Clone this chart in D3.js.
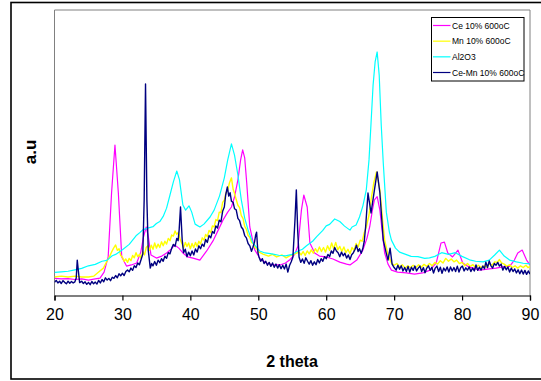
<!DOCTYPE html>
<html>
<head>
<meta charset="utf-8">
<script src="https://cdn.jsdelivr.net/npm/d3@7"></script>
<style>
  body { margin: 0; background: #fff; }
  svg { display: block; font-family: "Liberation Sans", Arial, sans-serif; }
</style>
</head>
<body>
<div id="chart"></div>
<script>
// series names as in the legend
const seriesNames = ["Ce 10% 600oC", "Mn 10% 600oC", "Al2O3", "Ce-Mn 10% 600oC"];
const seriesColors = ["#ff00ff", "#ffff00", "#00ffff", "#000080"];
const xTicks = [20, 30, 40, 50, 60, 70, 80, 90];

// [2 theta, a.u]
const ce = [
  [20, 6.0], [21, 5.8], [22, 5.9], [23, 5.6], [24, 5.8], [25, 5.4], [26, 5.8], [26.7, 6.1],
  [27.3, 8.2], [27.9, 13.5], [28.4, 35.9], [28.9, 52.7], [29.4, 35.9], [29.9, 13.5], [30.6, 10.3],
  [31.3, 10.7], [32.1, 11.4], [32.7, 15.2], [33.1, 20.5], [33.5, 24.0], [33.8, 20.8], [34.2, 14.2],
  [35, 13.1], [35.8, 13.8], [36.5, 14.9], [37.2, 16.3], [37.7, 17.7], [38.3, 16.6], [38.9, 14.9],
  [39.6, 13.5], [40.4, 13.1], [41.4, 12.4], [42.4, 15.6], [43.4, 19.4], [44.1, 22.9], [44.8, 26.4],
  [45.5, 29.2], [46.05, 31.0], [46.5, 34.5], [47, 40.5], [47.4, 47.5], [47.7, 51.0], [48, 48.2],
  [48.3, 39.4], [48.75, 24.0], [49.5, 15.9], [50.3, 12.8], [51.2, 11.4], [52.2, 10.7], [53.2, 10.7],
  [54, 11.4], [54.6, 12.4], [55.3, 14.2], [55.85, 17.3], [56.35, 29.9], [56.7, 35.2], [57.2, 31.0],
  [57.6, 18.4], [58.3, 14.9], [59, 13.8], [60, 13.5], [61, 12.8], [62, 11.7], [63, 11.0], [63.5, 10.7],
  [64.5, 12.4], [65.4, 15.9], [66, 20.1], [66.4, 24.0], [66.8, 29.9], [67.1, 33.5], [67.5, 34.6],
  [67.9, 29.9], [68.3, 21.2], [68.6, 14.9], [69.1, 11.0], [69.6, 8.9], [70.5, 8.2], [71.8, 7.9],
  [73, 7.5], [74.2, 7.9], [75.3, 8.9], [76.2, 11.4], [76.9, 18.4], [77.4, 18.7], [77.9, 14.9],
  [78.6, 13.5], [79.4, 15.9], [80.1, 11.4], [81, 10.0], [82.6, 8.9], [84, 9.3], [85, 9.6], [86, 10.0],
  [87, 10.2], [87.7, 12.4], [88.2, 14.9], [88.85, 15.9], [89.5, 12.4], [90, 10.7]
];

const mn = [
  [20, 6.5], [21, 6.8], [22, 6.5], [23, 6.8], [24, 6.5], [25, 6.5], [25.8, 6.8], [26.5, 8.2],
  [27.2, 9.6], [27.8, 12.4], [28.1, 13.6], [28.4, 15.2], [28.7, 16.6], [29, 17.7], [29.25, 15.8],
  [29.5, 16.4], [29.75, 14.0], [30, 13.4], [30.25, 12.0], [30.5, 12.8], [30.75, 11.6], [31, 13.0],
  [31.25, 12.2], [31.5, 14.0], [31.75, 13.2], [32, 15.0], [32.25, 13.6], [32.5, 14.4], [32.75, 13.0],
  [33, 15.4], [33.25, 14.2], [33.5, 16.8], [33.75, 17.4], [34, 15.8], [34.25, 17.6], [34.5, 16.2],
  [34.75, 18.4], [35, 16.6], [35.25, 18.0], [35.5, 16.8], [35.75, 18.8], [36, 17.4], [36.25, 19.0],
  [36.5, 18.0], [36.75, 20.0], [37, 19.2], [37.25, 21.2], [37.5, 20.8], [37.75, 22.6], [38, 21.4],
  [38.25, 22.2], [38.5, 19.6], [38.75, 18.2], [39, 16.6], [39.25, 18.6], [39.5, 17.2], [39.75, 18.4],
  [40, 16.4], [40.25, 18.2], [40.5, 16.8], [40.75, 18.6], [41, 17.2], [41.25, 19.0], [41.5, 18.0],
  [41.75, 20.2], [42, 19.4], [42.25, 21.4], [42.5, 20.6], [42.75, 22.8], [43, 22.0], [43.25, 24.4],
  [43.5, 24.0], [43.75, 26.6], [44, 26.2], [44.25, 29.2], [44.5, 29.0], [44.75, 32.6], [45, 33.4],
  [45.25, 36.0], [45.5, 36.8], [45.75, 39.4], [46.05, 41.2], [46.3, 37.2], [46.5, 35.8], [46.75, 33.6],
  [47, 31.6], [47.25, 30.8], [47.5, 28.0], [47.75, 27.0], [48, 24.2], [48.25, 23.2], [48.5, 21.0],
  [48.75, 20.4], [49, 18.6], [49.25, 18.2], [49.5, 16.8], [49.75, 16.4], [50, 15.4], [50.7, 14.5],
  [51.5, 13.8], [52.1, 14.4], [52.7, 13.5], [53.5, 14.2], [54.1, 13.2], [54.6, 13.9], [55.3, 14.5],
  [56, 15.2], [56.3, 14.2], [56.6, 15.4], [56.9, 14.0], [57.2, 15.6], [57.5, 14.6], [57.8, 16.0],
  [58.1, 14.8], [58.4, 16.4], [58.7, 15.2], [59, 17.0], [59.3, 15.4], [59.6, 16.8], [59.9, 15.2],
  [60.2, 17.4], [60.5, 15.8], [60.8, 18.4], [61.1, 16.4], [61.4, 18.6], [61.7, 16.0], [62, 17.2],
  [62.3, 15.4], [62.6, 17.0], [62.9, 15.0], [63.2, 16.2], [63.5, 14.6], [63.8, 16.8], [64.1, 15.8],
  [64.4, 18.2], [64.7, 17.0], [65, 19.4], [65.3, 19.0], [65.6, 22.0], [65.9, 24.0], [66.3, 28.2],
  [66.6, 33.5], [67, 39.4], [67.4, 43.3], [67.9, 37.0], [68.3, 26.4], [68.6, 19.4], [69.1, 14.2],
  [69.6, 11.4], [70, 10.6], [70.4, 11.2], [70.8, 10.0], [71.2, 10.8], [71.6, 9.6], [72, 10.4],
  [72.4, 9.8], [72.8, 10.6], [73.2, 9.8], [73.6, 10.8], [74, 10.0], [74.4, 10.9], [74.8, 10.2],
  [75.2, 11.2], [75.6, 10.4], [76, 11.6], [76.4, 11.0], [76.8, 12.2], [77.2, 11.4], [77.6, 13.0],
  [78, 12.0], [78.4, 12.8], [78.8, 11.8], [79.2, 12.4], [79.6, 11.2], [80, 11.6], [80.4, 10.4],
  [80.8, 11.2], [81.2, 10.2], [81.6, 10.8], [82, 9.8], [82.4, 10.6], [82.8, 9.8], [83.2, 10.4],
  [83.6, 10.0], [84, 11.0], [84.4, 10.6], [84.8, 11.8], [85.2, 11.6], [85.5, 12.6], [85.8, 11.4],
  [86.2, 11.0], [86.6, 10.2], [87, 10.8], [87.4, 9.8], [87.8, 10.4], [88.2, 9.6], [88.6, 10.4],
  [89, 9.8], [89.4, 10.6], [89.7, 9.8], [90, 10.2]
];

const al2o3 = [
  [20, 8.1], [21, 8.3], [22, 8.5], [23, 9.0], [24, 9.5], [25, 10.4], [26, 10.9], [27, 12.0],
  [27.7, 12.3], [28.5, 13.9], [29, 14.4], [30, 16.0], [31, 17.9], [32, 20.9], [32.6, 22.1],
  [33, 23.0], [33.5, 23.4], [34, 23.8], [34.5, 24.1], [35, 25.2], [35.5, 25.9], [36, 27.7],
  [36.5, 30.6], [37, 35.2], [37.5, 39.8], [38, 43.6], [38.4, 40.5], [38.9, 31.7], [39.3, 29.9],
  [39.8, 31.4], [40.2, 29.2], [40.7, 25.0], [41.4, 24.0], [42, 25.0], [42.9, 27.5], [43.5, 29.9],
  [44.3, 34.9], [45, 41.2], [45.5, 47.5], [46.05, 53.1], [46.5, 49.2], [47, 42.2], [47.5, 33.5],
  [48, 27.1], [48.5, 22.9], [49.2, 18.4], [50.2, 15.6], [51, 14.9], [52, 14.6], [53, 14.1],
  [54, 13.9], [55, 14.4], [55.6, 15.3], [56.5, 16.2], [57.1, 17.4], [58, 19.0], [58.6, 20.6],
  [59.5, 22.8], [60, 24.4], [60.5, 24.9], [61.25, 26.8], [62, 25.9], [62.7, 24.3], [63.5, 22.9],
  [63.8, 24.0], [64.4, 24.7], [64.9, 27.5], [65.4, 31.4], [65.9, 37.0], [66.3, 47.5], [66.6, 60.4],
  [66.9, 73.7], [67.2, 81.8], [67.5, 85.3], [67.8, 77.2], [68.1, 59.7], [68.4, 46.4], [68.85, 29.2],
  [69.3, 22.2], [69.6, 19.4], [70.2, 16.6], [70.8, 15.2], [71.5, 14.6], [72.5, 13.7], [73.5, 13.6],
  [74.5, 13.0], [75.2, 13.2], [76, 13.7], [77, 15.0], [78, 14.4], [79, 15.0], [80, 13.7],
  [81.1, 12.5], [82, 12.0], [83.1, 11.8], [84, 12.4], [84.8, 14.2], [85.5, 15.9], [86.2, 13.8],
  [87, 12.4], [88, 11.8], [89, 11.3], [90, 11.1]
];

const ceMn = [
  [20, 4.6], [20.25, 5.3], [20.5, 4.4], [20.75, 5.0], [21, 4.2], [21.25, 5.2], [21.5, 4.6],
  [21.75, 4.1], [22, 5.0], [22.25, 4.3], [22.5, 4.9], [22.75, 4.4], [23, 4.8], [23.2, 6.1],
  [23.35, 12.4], [23.5, 8.9], [23.7, 4.5], [24, 5.0], [24.25, 4.2], [24.5, 4.8], [24.75, 3.9],
  [25, 4.6], [25.25, 3.8], [25.5, 4.9], [25.75, 4.1], [26, 4.7], [26.25, 4.0], [26.5, 5.3],
  [26.75, 4.4], [27, 5.6], [27.25, 4.8], [27.5, 6.2], [27.75, 5.4], [28, 6.0], [28.25, 5.2],
  [28.5, 6.4], [28.75, 6.0], [29, 7.0], [29.25, 6.2], [29.5, 7.6], [29.75, 6.9], [30, 7.8],
  [30.25, 7.0], [30.5, 8.4], [30.75, 8.9], [31, 8.3], [31.25, 9.6], [31.5, 8.8], [31.75, 10.4],
  [32, 9.8], [32.25, 11.4], [32.5, 10.8], [32.75, 12.6], [33, 14.5], [33.2, 33.5], [33.4, 74.1],
  [33.6, 33.5], [33.8, 15.9], [34.1, 9.6], [34.3, 11.2], [34.5, 10.4], [34.75, 11.9], [35, 10.6],
  [35.25, 12.4], [35.5, 11.5], [35.75, 12.9], [36, 12.0], [36.25, 13.8], [36.5, 13.0], [36.75, 15.0],
  [37, 14.6], [37.25, 16.5], [37.5, 17.9], [37.75, 17.2], [38, 20.0], [38.2, 19.2], [38.35, 23.0],
  [38.55, 31.0], [38.8, 19.4], [39, 15.0], [39.25, 16.2], [39.5, 13.6], [39.75, 15.2], [40, 13.9],
  [40.25, 15.6], [40.5, 14.2], [40.75, 16.3], [41, 15.2], [41.25, 17.4], [41.5, 16.4], [41.75, 18.0],
  [42, 17.2], [42.25, 19.6], [42.5, 18.6], [42.75, 21.0], [43, 20.2], [43.25, 22.4], [43.5, 21.8],
  [43.75, 24.4], [44, 23.6], [44.25, 26.4], [44.5, 25.8], [44.75, 29.5], [45, 31.0], [45.2, 35.2],
  [45.45, 38.0], [45.65, 34.8], [45.85, 36.0], [46.05, 33.0], [46.3, 32.6], [46.5, 30.4], [46.75, 30.0],
  [47, 27.0], [47.25, 26.2], [47.5, 24.0], [47.75, 23.2], [48, 21.0], [48.25, 20.2], [48.5, 18.2],
  [48.75, 17.4], [49, 15.5], [49.2, 16.8], [49.45, 18.8], [49.6, 21.0], [49.75, 22.2], [49.95, 15.0],
  [50.1, 13.5], [50.35, 12.0], [50.6, 12.9], [50.85, 11.2], [51.1, 12.0], [51.35, 10.6], [51.6, 11.6],
  [51.85, 10.2], [52.1, 11.4], [52.35, 9.9], [52.6, 11.0], [52.85, 9.6], [53.1, 10.8], [53.35, 9.4],
  [53.6, 10.6], [53.85, 9.3], [54.1, 11.0], [54.35, 8.2], [54.6, 10.5], [54.85, 11.8], [55.1, 13.5],
  [55.4, 26.4], [55.6, 37.0], [55.8, 22.9], [56, 13.5], [56.25, 11.6], [56.5, 12.8], [56.75, 11.3],
  [57, 13.2], [57.25, 12.0], [57.5, 11.0], [57.75, 12.2], [58, 10.6], [58.25, 11.8], [58.5, 10.8],
  [58.75, 12.6], [59, 11.4], [59.25, 12.9], [59.5, 12.0], [59.75, 13.6], [60, 12.9], [60.25, 14.4],
  [60.5, 13.6], [60.75, 15.6], [61, 14.8], [61.25, 16.8], [61.5, 15.6], [61.75, 15.0], [62, 13.6],
  [62.25, 15.2], [62.5, 13.9], [62.75, 14.8], [63, 13.1], [63.25, 14.2], [63.5, 12.6], [63.75, 14.3],
  [64, 15.0], [64.25, 16.2], [64.45, 17.6], [64.7, 15.4], [64.9, 16.4], [65.15, 14.8], [65.4, 16.6],
  [65.6, 19.0], [65.8, 24.0], [66.15, 35.9], [66.6, 28.9], [67.1, 37.0], [67.5, 43.3], [67.9, 35.9],
  [68.4, 19.4], [68.8, 15.2], [69.1, 12.4], [69.4, 16.6], [69.7, 11.0], [70, 9.8], [70.3, 8.9],
  [70.55, 10.6], [70.8, 9.2], [71.05, 10.4], [71.3, 8.6], [71.55, 9.8], [71.8, 8.4], [72.05, 10.2],
  [72.3, 8.2], [72.55, 9.9], [72.8, 8.8], [73.05, 10.3], [73.3, 8.6], [73.55, 9.6], [73.8, 10.3],
  [74.05, 8.4], [74.3, 9.8], [74.55, 8.0], [74.8, 9.6], [75.05, 10.4], [75.3, 8.8], [75.55, 9.9],
  [75.8, 7.9], [76.05, 9.6], [76.3, 10.3], [76.55, 8.4], [76.8, 9.9], [77.05, 7.8], [77.3, 9.6],
  [77.55, 8.6], [77.8, 10.0], [78.05, 8.2], [78.3, 10.0], [78.55, 8.6], [78.8, 9.8], [79.05, 8.4],
  [79.3, 10.3], [79.55, 8.2], [79.8, 9.8], [80.05, 10.3], [80.3, 8.6], [80.55, 9.7], [80.8, 8.9],
  [81.05, 10.0], [81.3, 8.4], [81.55, 9.6], [81.8, 8.6], [82.05, 10.7], [82.3, 8.8], [82.55, 9.9],
  [82.8, 8.9], [83.05, 10.3], [83.3, 9.4], [83.5, 11.7], [83.75, 9.8], [84, 12.1], [84.25, 10.4],
  [84.5, 9.6], [84.75, 11.2], [85, 10.6], [85.25, 11.6], [85.5, 10.3], [85.75, 11.0], [86, 8.9],
  [86.25, 10.2], [86.5, 9.0], [86.75, 10.0], [87, 8.2], [87.25, 9.6], [87.5, 8.4], [87.75, 9.3],
  [88, 7.9], [88.25, 9.0], [88.5, 7.6], [88.75, 8.9], [89, 7.5], [89.25, 8.8], [89.5, 7.4],
  [89.75, 8.6], [90, 7.5]
];

const allSeries = [ce, mn, al2o3, ceMn];
const lineWidths = [1.2, 1.4, 1.2, 1.4];

const width = 541, height = 381;
const plot = { left: 54.5, right: 530, top: 10, bottom: 295.5 };

const svg = d3.select("#chart").append("svg")
  .attr("width", width)
  .attr("height", height);

// outer frame
svg.append("rect")
  .attr("x", 11).attr("y", 2.5)
  .attr("width", 540).attr("height", 376.5)
  .attr("fill", "none")
  .attr("stroke", "#000")
  .attr("stroke-width", 1.6);

const x = d3.scaleLinear().domain([20, 90]).range([plot.left, plot.right]);
const y = d3.scaleLinear().domain([0, 100]).range([plot.bottom, plot.top]);

// plot area border (grey)
svg.append("path")
  .attr("d", `M${plot.left},${plot.bottom} V${plot.top} H${plot.right} V${plot.bottom}`)
  .attr("fill", "none")
  .attr("stroke", "#808080")
  .attr("stroke-width", 1);

svg.append("clipPath").attr("id", "clip")
  .append("rect")
  .attr("x", plot.left).attr("y", plot.top)
  .attr("width", plot.right - plot.left).attr("height", plot.bottom - plot.top);

const line = d3.line()
  .x(d => x(d[0]))
  .y(d => y(d[1]));

const g = svg.append("g").attr("clip-path", "url(#clip)");
allSeries.forEach((s, i) => {
  g.append("path")
    .datum(s)
    .attr("d", line)
    .attr("fill", "none")
    .attr("stroke", seriesColors[i])
    .attr("stroke-width", lineWidths[i])
    .attr("stroke-linejoin", "round");
});

// x axis
const xAxis = svg.append("g")
  .attr("transform", `translate(0,${plot.bottom})`)
  .call(d3.axisBottom(x).tickValues(xTicks).tickSize(5).tickPadding(8).tickFormat(d3.format("d")));
xAxis.select(".domain").attr("stroke", "#000").attr("stroke-width", 1.2);
xAxis.selectAll(".tick line").attr("stroke", "#000").attr("stroke-width", 1.2);
xAxis.selectAll(".tick text")
  .attr("fill", "#000")
  .style("font-size", "16px")
  .style("font-family", "'Liberation Sans', Arial, sans-serif");

svg.append("text")
  .attr("x", 292).attr("y", 367)
  .attr("text-anchor", "middle")
  .style("font-size", "16px")
  .style("font-weight", "bold")
  .text("2 theta");

svg.append("text")
  .attr("transform", "translate(36,152) rotate(-90)")
  .attr("text-anchor", "middle")
  .style("font-size", "17px")
  .style("font-weight", "bold")
  .text("a.u");

// legend
const legend = svg.append("g");
legend.append("rect")
  .attr("x", 431.5).attr("y", 17.5)
  .attr("width", 92.5).attr("height", 63.5)
  .attr("fill", "#fff")
  .attr("stroke", "#000")
  .attr("stroke-width", 1);

const rowY = d3.scalePoint().domain(seriesNames).range([25.5, 72.5]);
seriesNames.forEach((name, i) => {
  legend.append("line")
    .attr("x1", 433).attr("x2", 450.5)
    .attr("y1", rowY(name)).attr("y2", rowY(name))
    .attr("stroke", seriesColors[i])
    .attr("stroke-width", 1.2);
  legend.append("text")
    .attr("x", 452).attr("y", rowY(name) + 3)
    .style("font-size", "8.5px")
    .text(name);
});
</script>
</body>
</html>
